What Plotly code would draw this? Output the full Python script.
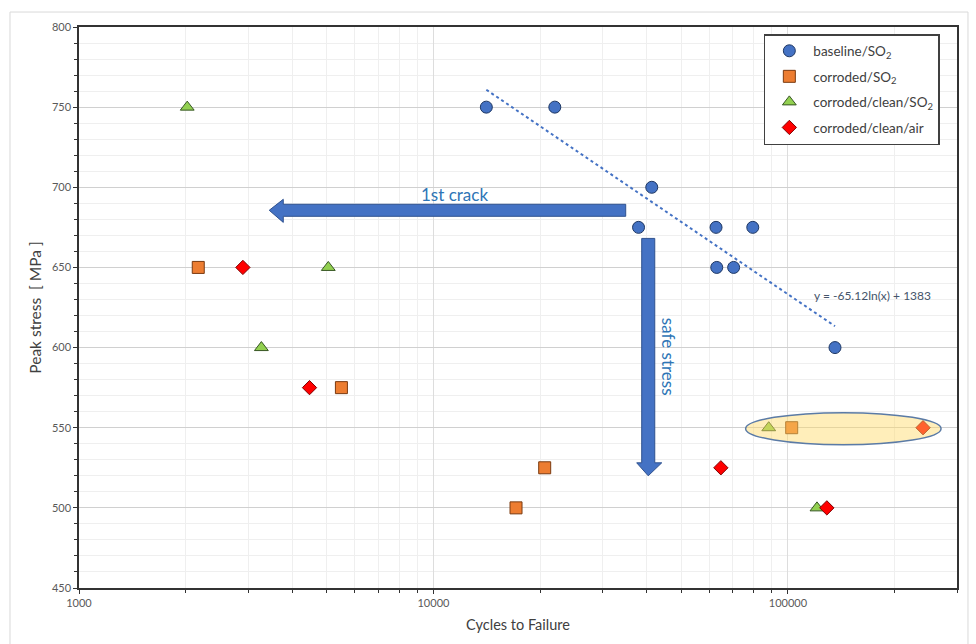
import numpy as np
import plotly.graph_objects as go

# Fatigue results: cycles to failure against peak stress for each condition
baseline_cycles = [14100, 22000, 41300, 37900, 62700, 79600, 63000, 70300, 135800]
baseline_stress = [750, 750, 700, 675, 675, 675, 650, 650, 600]

corroded_cycles = [2170, 5500, 20600, 17100, 102500]
corroded_stress = [650, 575, 525, 500, 550]

clean_so2_cycles = [2020, 5050, 3270, 88300, 120800]
clean_so2_stress = [750, 650, 600, 550, 500]

clean_air_cycles = [2900, 4470, 64700, 128800, 240600]
clean_air_stress = [650, 575, 525, 500, 550]

# Logarithmic trend of the baseline series: y = a*ln(x) + b
trend_a = -65.12
trend_b = 1383

x_tickvals = [1000, 10000, 100000]
x_ticktext = ["1000", "10000", "100000"]
y_tickvals = [450, 500, 550, 600, 650, 700, 750, 800]

FONT = "Lato, 'Liberation Sans', sans-serif"
LABEL_GREY = "#595959"

fig = go.Figure()

series = [
    ("baseline/SO<sub>2</sub>", baseline_cycles, baseline_stress, "circle", 12, "#4472C4", "#1F3864"),
    ("corroded/SO<sub>2</sub>", corroded_cycles, corroded_stress, "square", 12, "#ED7D31", "#7A3A10"),
    ("corroded/clean/SO<sub>2</sub>", clean_so2_cycles, clean_so2_stress, "triangle-up", 12, "#92D050", "#375623"),
    ("corroded/clean/air", clean_air_cycles, clean_air_stress, "diamond", 11, "#FF0000", "#7F0000"),
]

for i, (name, xs, ys, sym, size, fill, edge) in enumerate(series):
    fig.add_trace(go.Scatter(
        x=xs, y=ys, mode="markers", name=name,
        legendgroup=f"g{i}",
        marker=dict(symbol=sym, size=size, color=fill, line=dict(color=edge, width=1)),
    ))

# Trend line over the span of the baseline data
tx = np.geomspace(min(baseline_cycles), max(baseline_cycles), 60)
ty = trend_a * np.log(tx) + trend_b
fig.add_trace(go.Scatter(
    x=tx, y=ty, mode="lines", showlegend=False, hoverinfo="skip",
    line=dict(color="#4472C4", width=2, dash="dot"),
))


def block_path(points):
    return "M " + " L ".join(f"{x},{y}" for x, y in points) + " Z"


# Block arrows marking the first-crack and safe-stress directions
crack_arrow = [(34870, 689.4), (3770, 689.4), (3770, 692.5), (3441, 685.65),
               (3770, 678.1), (3770, 681.9), (34870, 681.9)]
safe_arrow = [(38690, 668.1), (38690, 528.1), (37450, 528.1), (40360, 520.0),
              (44070, 528.1), (42110, 528.1), (42110, 668.1)]
for pts in (crack_arrow, safe_arrow):
    fig.add_shape(type="path", path=block_path(pts), xref="x", yref="y",
                  fillcolor="#4472C4", line=dict(color="#2F528F", width=1), layer="above")

# Highlight ellipse around the 550 MPa long-life results
fig.add_shape(type="circle", xref="x", yref="y", x0=76000, x1=270500, y0=539.4, y1=559.4,
              fillcolor="rgba(255,217,102,0.45)", line=dict(color="#5B7BA6", width=1.5),
              layer="above")

# Light frame around the whole chart
fig.add_shape(type="rect", xref="paper", yref="paper", x0=-0.0786, x1=1.0125, y0=-0.12, y1=1.0267,
              line=dict(color="#D9D9D9", width=1), fillcolor="rgba(0,0,0,0)", layer="below")

fig.add_annotation(x=np.log10(11500), y=695.6, text="1st crack", showarrow=False,
                   font=dict(family=FONT, size=17, color="#2E75B6"))
fig.add_annotation(x=np.log10(46000), y=594.0, text="safe stress", showarrow=False, textangle=90,
                   font=dict(family=FONT, size=17, color="#2E75B6"))
fig.add_annotation(x=np.log10(173800), y=632.5, text="y = -65.12ln(x) + 1383", showarrow=False,
                   font=dict(family=FONT, size=12, color="#44546A"))

fig.update_layout(
    width=976, height=644,
    margin=dict(l=79, r=19, t=27, b=56),
    paper_bgcolor="white", plot_bgcolor="white",
    font=dict(family=FONT, color=LABEL_GREY),
    showlegend=True,
    legend=dict(
        x=0.780, y=0.9875, xanchor="left", yanchor="top",
        bgcolor="white", bordercolor="#404040", borderwidth=1.5,
        font=dict(family=FONT, size=13.5, color="#404040"),
        traceorder="grouped", tracegroupgap=5, itemwidth=38,
        entrywidth=160,
    ),
    xaxis=dict(
        type="log", range=[3, np.log10(300000)],
        tickvals=x_tickvals, ticktext=x_ticktext,
        tickfont=dict(size=11, color=LABEL_GREY),
        ticks="outside", ticklen=4, tickcolor="#333333",
        showline=True, linecolor="#333333", linewidth=1.5, mirror=True,
        showgrid=True, gridcolor="#DDDDDD", gridwidth=1,
        minor=dict(dtick="D1", ticks="outside", ticklen=3, tickcolor="#333333",
                   showgrid=True, gridcolor="#EFEFEF", gridwidth=1),
        title=dict(text="Cycles to Failure", font=dict(size=14.5, color="#404040"), standoff=12),
        zeroline=False,
    ),
    yaxis=dict(
        range=[450, 800], tickvals=y_tickvals,
        tickfont=dict(size=11, color=LABEL_GREY),
        ticks="outside", ticklen=4, tickcolor="#333333",
        showline=True, linecolor="#333333", linewidth=1.5, mirror=True,
        showgrid=True, gridcolor="#D0D0D0", gridwidth=1.2,
        minor=dict(dtick=10, ticks="outside", ticklen=3, tickcolor="#333333",
                   showgrid=True, gridcolor="#EFEFEF", gridwidth=1),
        title=dict(text="Peak stress\u00a0 [ MPa ]", font=dict(size=15.5, color="#404040"), standoff=6),
        zeroline=False,
    ),
)

fig.write_html("out.html")
